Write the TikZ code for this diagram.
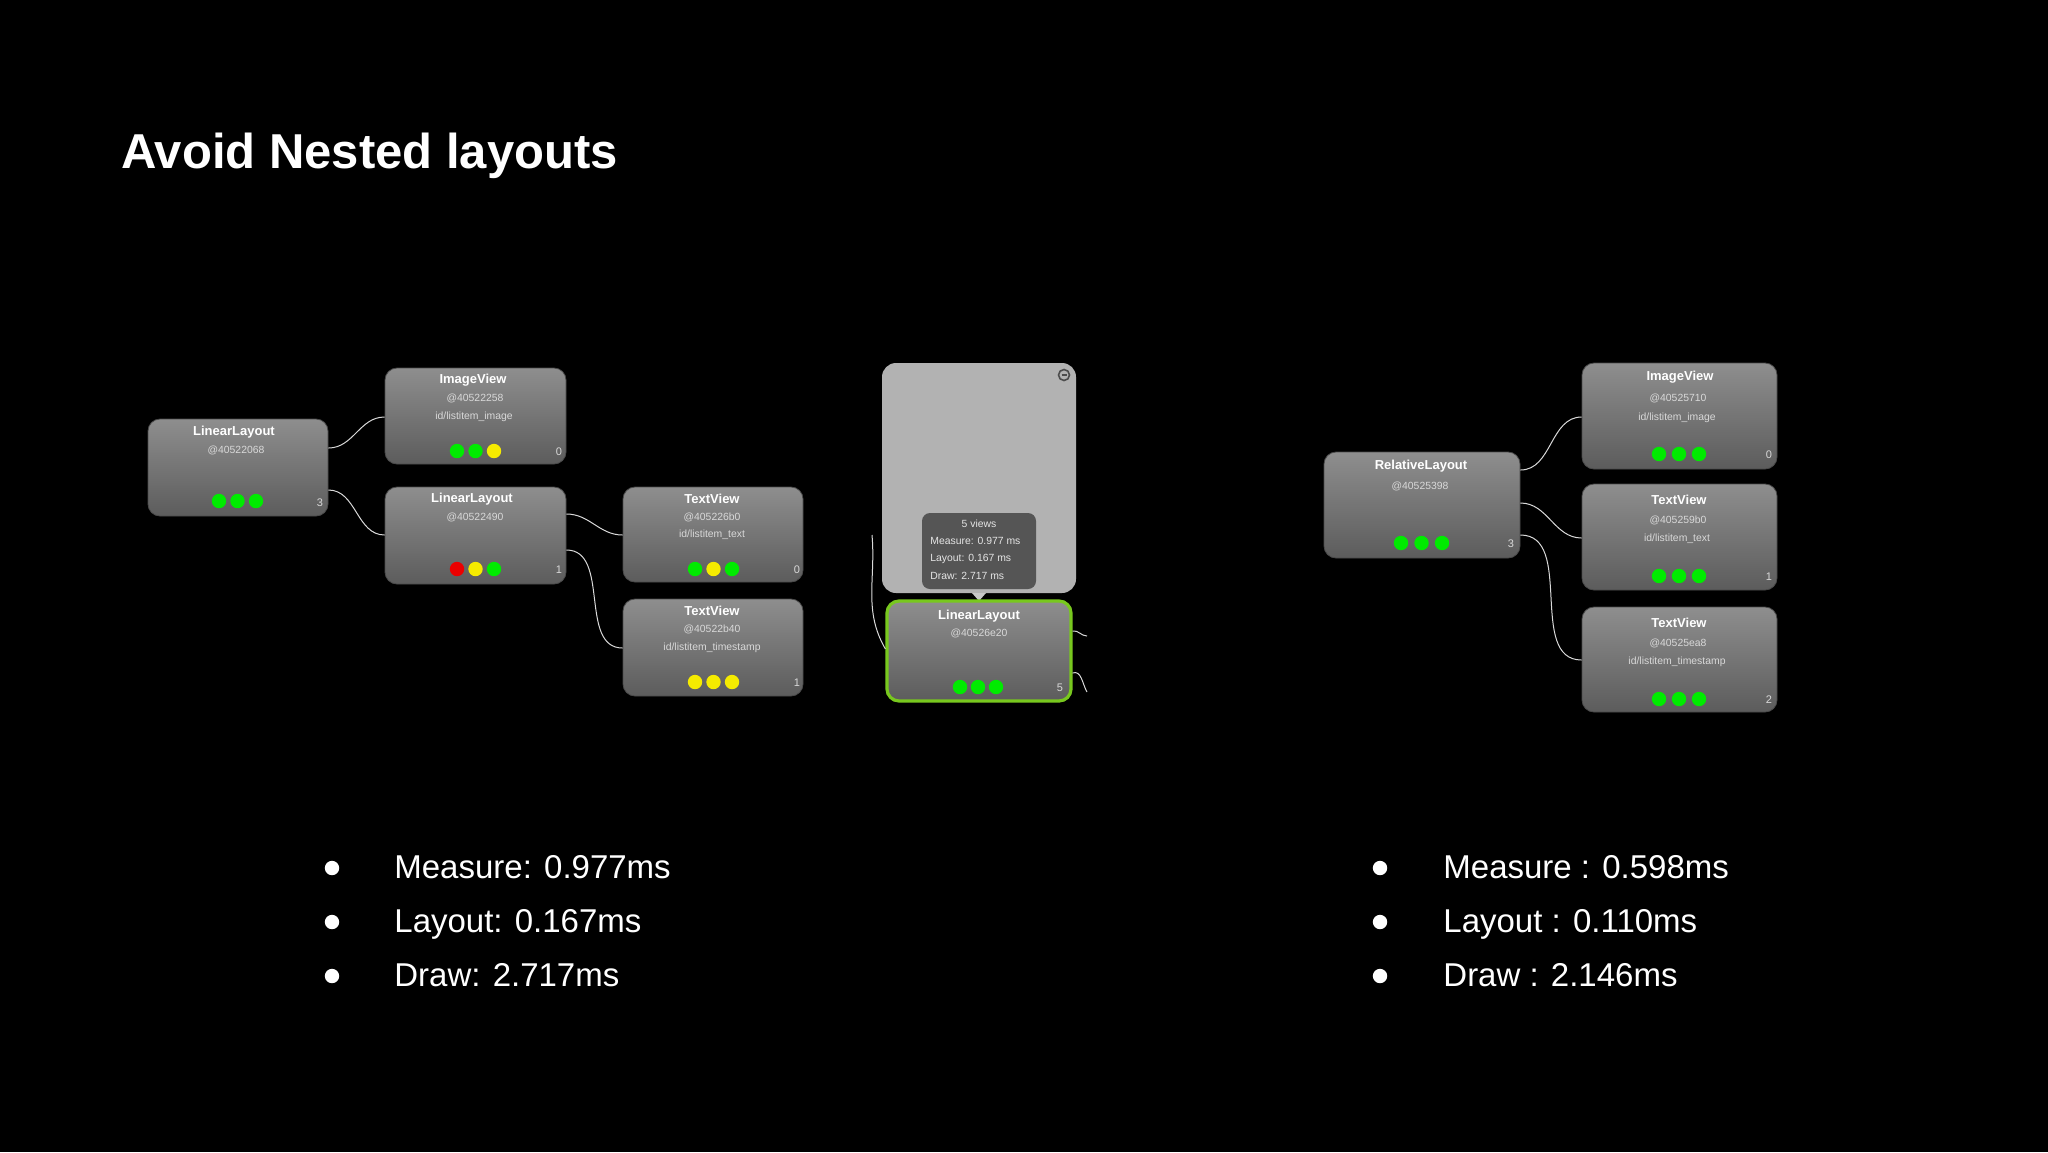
\documentclass[tikz,border=0pt]{standalone}
\usepackage{fontspec}
\setmainfont{Liberation Sans}
\definecolor{vtop}{RGB}{142,142,142}
\definecolor{vbot}{RGB}{92,92,92}
\definecolor{dg}{RGB}{0,235,0}
\definecolor{dy}{RGB}{245,235,0}
\definecolor{dr}{RGB}{235,0,0}
\definecolor{popc}{RGB}{178,178,178}
\definecolor{tipc}{RGB}{85,85,85}
\definecolor{tric}{RGB}{200,200,200}
\definecolor{selc}{RGB}{120,200,30}
\newcommand\tridots[6]{\fill[#3] (#1,#2) circle[radius=3.6pt];\fill[#4] (#1+#6,#2) circle[radius=3.6pt];\fill[#5] (#1+2*#6,#2) circle[radius=3.6pt];}
\begin{document}
\begin{tikzpicture}[x=0.5pt,y=-0.5pt,
  vbox/.style={rounded corners=6pt,top color=vtop,bottom color=vbot,draw=vbot!80!black,line width=0.4pt},
  ttl/.style={text=white,font=\fontsize{6.5}{7}\selectfont\bfseries,inner sep=0pt},
  sub/.style={text=white!85!black,font=\fontsize{5.2}{6}\selectfont,inner sep=0pt},
  num/.style={text=white!85!black,font=\fontsize{5.5}{6}\selectfont,inner sep=0pt},
  wire/.style={draw=white!85!black,line width=0.5pt},
  bul/.style={text=white,font=\fontsize{16.5}{19}\selectfont,anchor=base west,inner sep=0pt}]
\fill[black] (0,0) rectangle (2048,1152);
\useasboundingbox (0,0) rectangle (2048,1152);
\node[text=white,font=\fontsize{24.5}{28}\selectfont\bfseries,anchor=base west,inner sep=0pt] (title) at (121,168) {Avoid Nested layouts};
% left tree
\node[vbox,minimum width=90pt,minimum height=48.5pt] (ll1) at (238,467.5) {};
\node[vbox,minimum width=90.5pt,minimum height=48pt] (iv1) at (475.5,416) {};
\node[vbox,minimum width=90.5pt,minimum height=48.5pt] (ll2) at (475.5,535.5) {};
\node[vbox,minimum width=90pt,minimum height=47.5pt] (tv1) at (713,534.5) {};
\node[vbox,minimum width=90pt,minimum height=48.5pt] (tv2) at (713,647.5) {};
\node[ttl] (t1) at (234,432) {LinearLayout};
\node[sub] (s1) at (236,450) {@40522068};
\tridots{219}{501}{dg}{dg}{dg}{18.5}
\node[num] (n1) at (320,503) {3};
\node[ttl] (t2) at (473,380) {ImageView};
\node[sub] (s2) at (475,398) {@40522258};
\node[sub] (s2b) at (474,417) {id/listitem\_image};
\tridots{457}{451}{dg}{dg}{dy}{18.5}
\node[num] (n2) at (559,452) {0};
\node[ttl] (t3) at (472,499) {LinearLayout};
\node[sub] (s3) at (475,517) {@40522490};
\tridots{457}{569}{dr}{dy}{dg}{18.5}
\node[num] (n3) at (559,570) {1};
\node[ttl] (t4) at (712,499) {TextView};
\node[sub] (s4) at (712,517) {@405226b0};
\node[sub] (s4b) at (712,535) {id/listitem\_text};
\tridots{695}{569}{dg}{dy}{dg}{18.5}
\node[num] (n4) at (797,570) {0};
\node[ttl] (t5) at (712,611) {TextView};
\node[sub] (s5) at (712,629) {@40522b40};
\node[sub] (s5b) at (712,648) {id/listitem\_timestamp};
\tridots{695}{682}{dy}{dy}{dy}{18.5}
\node[num] (n5) at (797,683) {1};
\draw[wire] ([yshift=9.75pt]ll1.east) to[out=0,in=180] ([yshift=-0.5pt]iv1.west);
\draw[wire] ([yshift=-11.25pt]ll1.east) to[out=0,in=180] ([yshift=0.25pt]ll2.west);
\draw[wire] ([yshift=10.75pt]ll2.east) to[out=0,in=180] ([yshift=-0.25pt]tv1.west);
\draw[wire] ([yshift=-7.25pt]ll2.east) to[out=0,in=180] ([yshift=-0.25pt]tv2.west);
% middle
\node[rounded corners=7pt,fill=popc,minimum width=97pt,minimum height=115pt,inner sep=0pt] (pop) at (979,478) {};
\node[circle,draw=black!70,line width=0.8pt,minimum size=5.5pt,inner sep=0pt] (icon) at (1064,375) {};
\draw[black!70,line width=0.6pt] (icon.center) ++(-2.5,0) -- ++(5,0);
\node[rounded corners=4pt,fill=tipc,minimum width=57pt,minimum height=38pt,inner sep=0pt] (tip) at (979,551) {};
\fill[tric] (972,593) -- (986,593) -- (979,601) -- cycle;
\node[sub,text=white!90!black] (k1) at (979,524) {5 views};
\node[sub,text=white!90!black,anchor=west] (k2) at (930,541) {Measure: 0.977 ms};
\node[sub,text=white!90!black,anchor=west] (k3) at (930,559) {Layout: 0.167 ms};
\node[sub,text=white!90!black,anchor=west] (k4) at (930,576) {Draw: 2.717 ms};
\node[vbox,draw=selc,line width=1.6pt,minimum width=92pt,minimum height=50pt] (gll) at (979,651) {};
\node[ttl] (t6) at (979,616) {LinearLayout};
\node[sub] (s6) at (979,633) {@40526e20};
\tridots{960}{687}{dg}{dg}{dg}{18}
\node[num] (n6) at (1060,688) {5};
\coordinate (ml) at (872,535);
\coordinate (mr1) at (1087,636);
\coordinate (mr2) at (1087,692);
\draw[wire] (ml) to[out=-85,in=120] ([yshift=1pt]gll.west);
\draw[wire] ([yshift=10pt]gll.east) to[out=10,in=180] (mr1);
\draw[wire] ([yshift=-11pt]gll.east) to[out=20,in=120] (mr2);
% right tree
\node[vbox,minimum width=98pt,minimum height=53pt] (rl) at (1422,505) {};
\node[vbox,minimum width=97.5pt,minimum height=53pt] (riv) at (1679.5,416) {};
\node[vbox,minimum width=97.5pt,minimum height=53pt] (rtv1) at (1679.5,537) {};
\node[vbox,minimum width=97.5pt,minimum height=52.5pt] (rtv2) at (1679.5,659.5) {};
\node[ttl] (t7) at (1421,466) {RelativeLayout};
\node[sub] (s7) at (1420,486) {@40525398};
\tridots{1401}{543}{dg}{dg}{dg}{20.5}
\node[num] (n7) at (1511,544) {3};
\node[ttl] (t8) at (1680,377) {ImageView};
\node[sub] (s8) at (1678,398) {@40525710};
\node[sub] (s8b) at (1677,418) {id/listitem\_image};
\tridots{1659}{454}{dg}{dg}{dg}{20}
\node[num] (n8) at (1769,455) {0};
\node[ttl] (t9) at (1679,500) {TextView};
\node[sub] (s9) at (1678,520) {@405259b0};
\node[sub] (s9b) at (1677,539) {id/listitem\_text};
\tridots{1659}{576}{dg}{dg}{dg}{20}
\node[num] (n9) at (1769,577) {1};
\node[ttl] (t10) at (1679,623) {TextView};
\node[sub] (s10) at (1678,643) {@40525ea8};
\node[sub] (s10b) at (1677,662) {id/listitem\_timestamp};
\tridots{1659}{699}{dg}{dg}{dg}{20}
\node[num] (n10) at (1769,700) {2};
\draw[wire] ([yshift=17.5pt]rl.east) to[out=0,in=180] ([yshift=-0.5pt]riv.west);
\draw[wire] ([yshift=1pt]rl.east) to[out=0,in=180] ([yshift=-0.5pt]rtv1.west);
\draw[wire] ([yshift=-15pt]rl.east) to[out=0,in=180] ([yshift=-0.25pt]rtv2.west);
% bullets
\foreach \y/\tx [count=\i] in {868/{Measure: 0.977ms},922/{Layout: 0.167ms},976/{Draw: 2.717ms}}{
  \fill[white] (332,\y) circle[radius=3.6pt];
  \node[bul] (bl\i) at (394,\y+10) {\tx};}
\foreach \y/\tx [count=\i] in {868/{Measure : 0.598ms},922/{Layout : 0.110ms},976/{Draw : 2.146ms}}{
  \fill[white] (1380,\y) circle[radius=3.6pt];
  \node[bul] (br\i) at (1443,\y+10) {\tx};}
\end{tikzpicture}
\end{document}
